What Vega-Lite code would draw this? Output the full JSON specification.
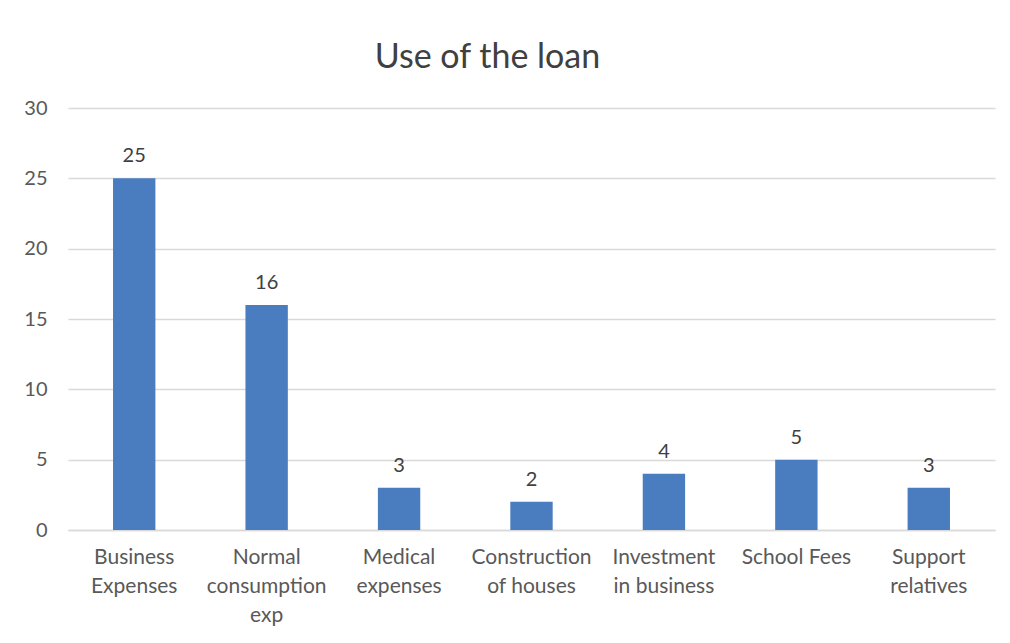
{
  "$schema": "https://vega.github.io/schema/vega-lite/v6.json",
  "width": 927,
  "height": 422,
  "autosize": {"type": "none"},
  "padding": {"left": 68, "top": 108, "right": 15, "bottom": 113},
  "background": "white",
  "config": {"view": {"stroke": null}},
  "title": {"text": "Use of the loan", "font": "Lato", "fontSize": 34, "fontWeight": "normal", "color": "#404040", "offset": 23, "dx": -44, "anchor": "middle"},
  "data": {"values": [
    {"category": "Business Expenses", "value": 25},
    {"category": "Normal consumption exp", "value": 16},
    {"category": "Medical expenses", "value": 3},
    {"category": "Construction of houses", "value": 2},
    {"category": "Investment in business", "value": 4},
    {"category": "School Fees", "value": 5},
    {"category": "Support relatives", "value": 3}
  ]},
  "encoding": {
    "x": {"field": "category", "type": "nominal", "sort": null,
      "scale": {"paddingInner": 0.68, "paddingOuter": 0.34},
      "axis": {"title": null, "labelAngle": 0, "ticks": false, "domain": true, "domainColor": "#d9d9d9", "domainWidth": 1.5,
        "labelFont": "Lato", "labelFontSize": 21, "labelColor": "#595959", "labelPadding": 16, "labelLineHeight": 29, "labelBaseline": "top",
        "labelExpr": "datum.label == 'Business Expenses' ? ['Business','Expenses'] : datum.label == 'Normal consumption exp' ? ['Normal','consumption','exp'] : datum.label == 'Medical expenses' ? ['Medical','expenses'] : datum.label == 'Construction of houses' ? ['Construction','of houses'] : datum.label == 'Investment in business' ? ['Investment','in business'] : datum.label == 'Support relatives' ? ['Support','relatives'] : datum.label"}},
    "y": {"field": "value", "type": "quantitative", "scale": {"domain": [0, 30]},
      "axis": {"title": null, "values": [0,5,10,15,20,25,30], "ticks": false, "domain": false, "gridColor": "#d9d9d9", "gridWidth": 1.5,
        "labelFont": "Lato", "labelFontSize": 20, "labelColor": "#595959", "labelPadding": 21}}
  },
  "layer": [
    {"mark": {"type": "bar", "color": "#4a7cc0"}},
    {"mark": {"type": "text", "font": "Lato", "fontSize": 20, "color": "#404040", "baseline": "bottom", "dy": -12}, "encoding": {"text": {"field": "value", "type": "quantitative"}}}
  ]
}
